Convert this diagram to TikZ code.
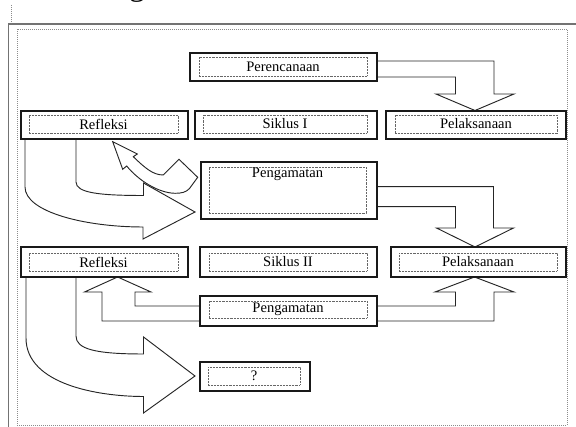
\documentclass[tikz,border=0pt]{standalone}
\usepackage{fontspec}
\setmainfont{Liberation Serif}
\usetikzlibrary{fit,calc}
\begin{document}
\begin{tikzpicture}[x=0.75pt,y=-0.75pt,
 outerbox/.style={draw=black!90, line width=0.9pt, fill=white, inner sep=0pt},
 innerbox/.style={draw=black!60, line width=0.6pt, dash pattern=on 0.55pt off 0.55pt, inner sep=0pt},
 lbl/.style={font=\fontsize{10.9}{12}\selectfont, inner sep=0pt, text=black},
 blockarrow/.style={draw=black!85, line width=0.7pt, fill=white, line join=miter},
 framesolid/.style={draw=black!55, line width=1.1pt},
 framedot/.style={draw=black!45, line width=0.6pt, dash pattern=on 0.6pt off 0.9pt}]
\useasboundingbox (0,0) rectangle (576,427);
% frames
\draw[framesolid] (8.3,427) -- (8.3,24) -- (576,24);
\draw[framedot] (11.7,5) -- (11.7,23);
\draw[framedot] (17,29.3) rectangle (567,425);
\node[anchor=base, font=\fontsize{24}{24}\selectfont, inner sep=0pt] (headg) at (137,-4.5) {g};

% block arrows
\draw[blockarrow] (377,61) -- (494,61) -- (494,94) -- (514,94) -- (475,110.5) -- (436,94) -- (455.5,94) -- (455.5,77) -- (377,77);
\draw[blockarrow] (377,186.7) -- (493.5,186.7) -- (493.5,228) -- (513.5,228) -- (475,247) -- (436.5,228) -- (455.5,228) -- (455.5,206.7) -- (377,206.7);
\draw[blockarrow] (377,306) -- (455.5,306) -- (455.5,292) -- (435,292) -- (474.5,277) -- (514,292) -- (494,292) -- (494,321) -- (377,321);
\draw[blockarrow] (200,306) -- (135,306) -- (135,292) -- (151,292) -- (117.6,277) -- (84.5,292) -- (102,292) -- (102,321) -- (200,321);
\draw[blockarrow] (25,139) -- (25,187) .. controls (25,212) and (85,227) .. (143,227) -- (143,239) -- (195,212) -- (143.5,183) -- (143.5,195.5) .. controls (100,195.5) and (76,193) .. (76,182) -- (76,139);
\draw[blockarrow] (26,277) -- (26,338) .. controls (26,385) and (100,396.5) .. (143.5,396.5) -- (143.5,413) -- (195,376) -- (143.5,337) -- (143.5,354) .. controls (95,354) and (76,349) .. (76,336) -- (76,277);
\draw[blockarrow] (112.7,141.7) -- (137.3,154) -- (133.3,156.7) .. controls (145,168) and (153,175) .. (163.3,175) -- (179,159.3) -- (197.7,177.3) -- (189.5,188.5) .. controls (186,192.5) and (181,193.3) .. (175,193.3) .. controls (158,193) and (138,180) .. (126.7,166) -- (122.7,169.3) -- cycle;

% boxes
\node[outerbox, fit={(190,53) (377,81)}] (per) {};
\node[innerbox, fit={(199,57) (367,76)}] (perin) {};
\node[lbl] (pertx) at (perin.center) {Perencanaan};

\node[outerbox, fit={(21,111) (188,139)}] (ref1) {};
\node[innerbox, fit={(29,115) (178,133)}] (ref1in) {};
\node[lbl] (ref1tx) at (ref1in.center) {Refleksi};

\node[outerbox, fit={(195,111) (377,139)}] (sik1) {};
\node[innerbox, fit={(203,115) (367,133)}] (sik1in) {};
\node[lbl] (sik1tx) at (sik1in.center) {Siklus I};

\node[outerbox, fit={(386,111) (566,139)}] (pel1) {};
\node[innerbox, fit={(395,115) (557,133)}] (pel1in) {};
\node[lbl] (pel1tx) at (pel1in.center) {Pelaksanaan};

\node[outerbox, fit={(201,162) (377,219)}] (peng2) {};
\node[innerbox, fit={(209,167) (366,213)}] (peng2in) {};
\node[lbl] (peng2tx) at (287.5,174.5) {Pengamatan};

\node[outerbox, fit={(21,247) (188,277)}] (ref2) {};
\node[innerbox, fit={(29,253) (178,271)}] (ref2in) {};
\node[lbl] (ref2tx) at (ref2in.center) {Refleksi};

\node[outerbox, fit={(200,247) (377,277)}] (sik2) {};
\node[innerbox, fit={(209,253) (367,271)}] (sik2in) {};
\node[lbl] (sik2tx) at (sik2in.center) {Siklus II};

\node[outerbox, fit={(391,247) (566,277)}] (pel2) {};
\node[innerbox, fit={(399,253) (557,271)}] (pel2in) {};
\node[lbl] (pel2tx) at (pel2in.center) {Pelaksanaan};

\node[outerbox, fit={(200,296) (377,326)}] (peng3) {};
\node[innerbox, fit={(209,301) (367,318)}] (peng3in) {};
\node[lbl] (peng3tx) at (peng3in.center) {Pengamatan};

\node[outerbox, fit={(200,362) (310,391)}] (qbox) {};
\node[innerbox, fit={(208,367) (300,385)}] (qin) {};
\node[lbl] (qtx) at (qin.center) {?};
\end{tikzpicture}
\end{document}
